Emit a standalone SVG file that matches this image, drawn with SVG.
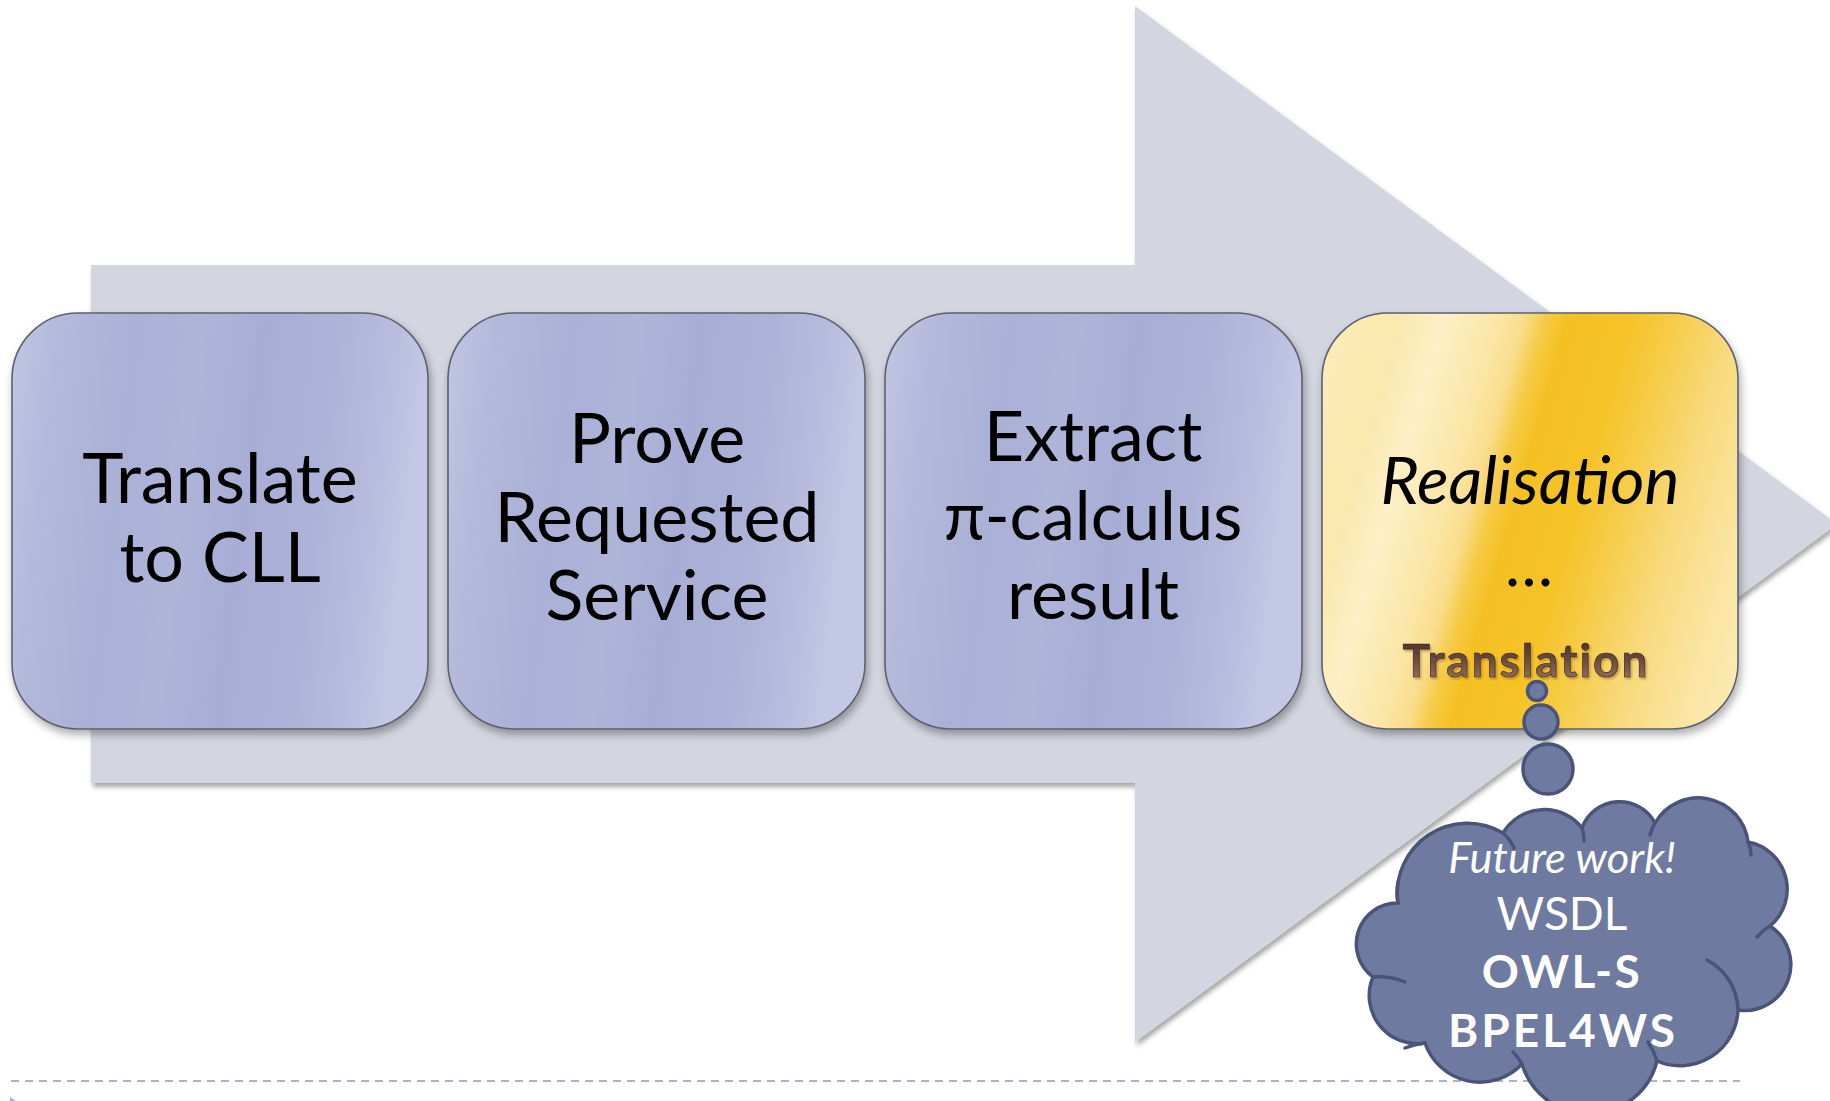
<svg xmlns="http://www.w3.org/2000/svg" width="1830" height="1101" viewBox="0 0 1830 1101">
  <defs>
    <!-- lavender fill of the process steps -->
    <linearGradient id="stepFill" x1="0" y1="0" x2="1" y2="0.12">
      <stop offset="0" stop-color="#C1C6E2"/>
      <stop offset="0.12" stop-color="#B4B9DB"/>
      <stop offset="0.3" stop-color="#AAB0D6"/>
      <stop offset="0.45" stop-color="#AFB4D9"/>
      <stop offset="0.6" stop-color="#A7ADD5"/>
      <stop offset="0.78" stop-color="#ADB2D8"/>
      <stop offset="0.92" stop-color="#B9BEDE"/>
      <stop offset="1" stop-color="#C3C8E4"/>
    </linearGradient>
    <!-- slanted gold bands of the last step -->
    <linearGradient id="goldFill" gradientUnits="userSpaceOnUse" x1="1280" y1="509" x2="1780" y2="653">
      <stop offset="0" stop-color="#FCEBB8"/>
      <stop offset="0.12" stop-color="#FBE8AE"/>
      <stop offset="0.2" stop-color="#FDF0C6"/>
      <stop offset="0.3" stop-color="#FBE6A6"/>
      <stop offset="0.35" stop-color="#F9DD8C"/>
      <stop offset="0.39" stop-color="#F6CA45"/>
      <stop offset="0.43" stop-color="#F5C124"/>
      <stop offset="0.54" stop-color="#F5C327"/>
      <stop offset="0.62" stop-color="#F6CB45"/>
      <stop offset="0.73" stop-color="#F8D97A"/>
      <stop offset="0.86" stop-color="#FAE5A4"/>
      <stop offset="1" stop-color="#FCEDBD"/>
    </linearGradient>
    <linearGradient id="brownText" x1="0" y1="0" x2="0" y2="1">
      <stop offset="0" stop-color="#3F2622"/>
      <stop offset="0.5" stop-color="#6A4A40"/>
      <stop offset="1" stop-color="#A07C6C"/>
    </linearGradient>
    <filter id="arrowShadow" x="-5%" y="-5%" width="110%" height="112%">
      <feDropShadow dx="2" dy="4" stdDeviation="2.5" flood-color="#000" flood-opacity="0.35"/>
    </filter>
    <filter id="boxShadow" x="-5%" y="-5%" width="112%" height="115%">
      <feDropShadow dx="2" dy="5" stdDeviation="4" flood-color="#000" flood-opacity="0.32"/>
    </filter>
    <filter id="embossShadow" x="-5%" y="-20%" width="110%" height="150%">
      <feDropShadow dx="1.5" dy="2" stdDeviation="1.2" flood-color="#7A5418" flood-opacity="0.45"/>
    </filter>
  </defs>
  <style>
    .step { stroke: #5E6070; stroke-width: 1.6; filter: url(#boxShadow); }
    .label { font-family: Lato, "Noto Sans", "DejaVu Sans", sans-serif; font-size: 70px; fill: #000; text-anchor: middle; }
    .cloud { fill: #6E7AA0; stroke: #4B5478; stroke-width: 3.5; stroke-linejoin: round; }
    .crease { fill: none; stroke: #4B5478; stroke-width: 3.5; stroke-linecap: round; }
    .note { font-family: Lato, "Noto Sans", "DejaVu Sans", sans-serif; font-size: 46px; fill: #FFFFFF; text-anchor: middle; }
  </style>

  <rect width="1830" height="1101" fill="#FFFFFF"/>

  <!-- big process arrow -->
  <g id="process-arrow">
    <polygon points="91,265 1135,265 1135,6 1837,524 1135,1042 1135,783 91,783" fill="#D3D6E0" filter="url(#arrowShadow)"/>
  </g>

  <!-- footer rule -->
  <line x1="11" y1="1081" x2="1740" y2="1081" stroke="#A2B7CC" stroke-width="2.2" stroke-dasharray="8 6"/>
  <polygon points="10,1097 16,1101 10,1101" fill="#A2B7CC"/>

  <g id="step-translate">
    <rect class="step" x="12" y="313" width="416" height="416" rx="66" fill="url(#stepFill)"/>
    <text class="label" x="220" y="503">Translate</text>
    <text class="label" x="220" y="582">to CLL</text>
  </g>

  <g id="step-prove">
    <rect class="step" x="448" y="313" width="417" height="416" rx="66" fill="url(#stepFill)"/>
    <text class="label" x="657" y="463">Prove</text>
    <text class="label" x="657" y="542">Requested</text>
    <text class="label" x="657" y="620">Service</text>
  </g>

  <g id="step-extract">
    <rect class="step" x="885" y="313" width="417" height="416" rx="66" fill="url(#stepFill)"/>
    <text class="label" x="1093" y="461">Extract</text>
    <text class="label" x="1093" y="540" style="font-size:67px">π-calculus</text>
    <text class="label" x="1093" y="619">result</text>
  </g>

  <g id="step-realisation">
    <rect class="step" x="1322" y="313" width="416" height="416" rx="66" fill="url(#goldFill)"/>
    <text class="label" x="1530" y="504" style="font-size:66px; font-style:italic">Realisation</text>
    <text class="label" x="1529" y="586" style="font-size:64px">…</text>
    <text x="1526" y="677" style="font-family:Lato, 'Noto Sans', sans-serif; font-size:46px; font-weight:bold; letter-spacing:2px" text-anchor="middle" fill="url(#brownText)" stroke="#3A2420" stroke-width="0.6" filter="url(#embossShadow)">Translation</text>
  </g>

  <!-- thought cloud with its trail of bubbles -->
  <g id="future-work">
    <circle class="cloud" cx="1537" cy="691" r="9.5" stroke-width="3"/>
    <circle class="cloud" cx="1541" cy="722" r="17" stroke-width="3"/>
    <circle class="cloud" cx="1548" cy="769" r="25" stroke-width="3"/>
    <path class="cloud" d="M1398 903 A70 70 0 0 1 1503 833 A48 48 0 0 1 1582 828 A40 40 0 0 1 1655 823 A50 50 0 0 1 1748 842 A48 48 0 0 1 1770 926 A46 46 0 0 1 1738 1010 A58 58 0 0 1 1657 1061 A70 70 0 0 1 1522 1064 A58 58 0 0 1 1425 1043 A48 48 0 0 1 1373 977 A41 41 0 0 1 1398 903 Z"/>
    <path class="crease" d="M1503 833 Q1510 839 1514 848"/>
    <path class="crease" d="M1582 828 Q1584 834 1584 841"/>
    <path class="crease" d="M1655 823 Q1652 828 1650 835"/>
    <path class="crease" d="M1748 842 Q1751 848 1751 855"/>
    <path class="crease" d="M1770 926 Q1763 930 1757 937"/>
    <path class="crease" d="M1707 960 A58 58 0 0 1 1738 1010"/>
    <path class="crease" d="M1648 1042 Q1654 1051 1657 1061"/>
    <path class="crease" d="M1522 1064 Q1518 1057 1513 1052"/>
    <path class="crease" d="M1425 1043 Q1415 1044 1405 1048"/>
    <path class="crease" d="M1373 977 Q1390 976 1405 982"/>
    <path class="crease" d="M1398 903 Q1396 893 1398 882"/>
    <text class="note" x="1562" y="873" style="font-size:43.5px; font-style:italic">Future work!</text>
    <text class="note" x="1562" y="930">WSDL</text>
    <text class="note" x="1562" y="988" style="font-weight:bold; letter-spacing:2.5px">OWL-S</text>
    <text class="note" x="1563" y="1047" style="font-weight:bold; letter-spacing:3px">BPEL4WS</text>
  </g>
</svg>
